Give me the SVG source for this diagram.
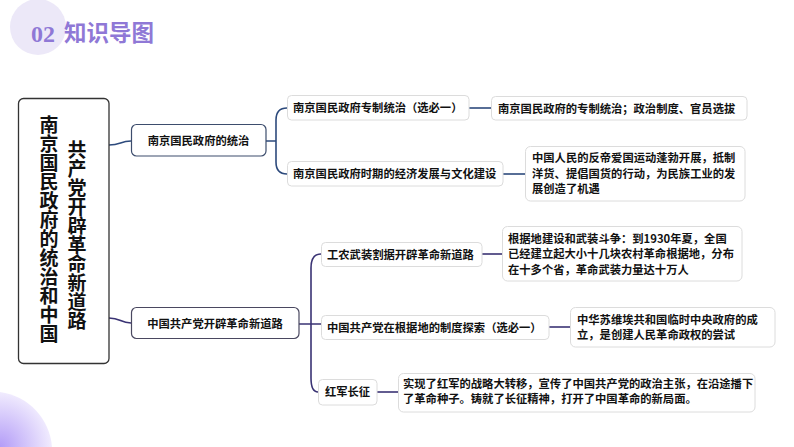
<svg xmlns="http://www.w3.org/2000/svg" width="794" height="447" viewBox="0 0 794 447">
<defs>
<radialGradient id="cg" cx="0" cy="1" r="1">
<stop offset="0" stop-color="#b39cf7"/>
<stop offset="1" stop-color="#f1ecfe"/>
</radialGradient>
<style>
.t{font-family:"Noto Sans CJK SC","Noto Sans",sans-serif;font-weight:bold;fill:#111;font-size:11.3px}
.sub{fill:#fff;stroke:#dcdcdc;stroke-width:1}
.ca{fill:none;stroke:#2d4a7c;stroke-width:1.6}
.cb{fill:none;stroke:#3a3374;stroke-width:1.6}
</style>
</defs>
<rect width="794" height="447" fill="#fff"/>
<g id="header">
<circle cx="38" cy="27" r="28" fill="#ece8f8"/>
<text x="31" y="42" font-family="Liberation Serif,serif" font-weight="bold" font-size="24" fill="#8f78d6">02</text>
<text x="64" y="41" font-family="Noto Sans CJK SC,sans-serif" font-weight="bold" font-size="22.5" fill="#8f78d6">知识导图</text>
</g>
<path d="M0,392 A60,60 0 0 1 52,447 L0,447 Z" fill="url(#cg)"/>
<g id="connectors">
<path class="ca" d="M109,145 C121,145 120,141 131,141"/>
<path class="ca" d="M266,141 H276 M287,108 C279,108 276,112 276,120 V162 C276,170 279,174 287,174"/>
<path class="ca" d="M469,108 H491"/>
<path class="ca" d="M503,174 H525"/>
<path class="cb" d="M109,318 C121,318 120,323 131,323"/>
<path class="cb" d="M299,324 H321 M321,254 C314,254 311,259 311,268 V378 C311,387 313,392 318,392"/>
<path class="cb" d="M482,254 H502"/>
<path class="cb" d="M549,327 H570"/>
<path class="cb" d="M377,392 H398"/>
</g>
<g id="root">
<rect x="18.5" y="98.5" width="90.5" height="265" rx="5" fill="#fff" stroke="#333" stroke-width="1.3"/>
<text x="49" y="115" style="writing-mode:vertical-rl;text-orientation:upright" font-family="Noto Sans CJK SC,sans-serif" font-weight="bold" font-size="19" fill="#111">南京国民政府的统治和中国</text>
<text x="77" y="140" style="writing-mode:vertical-rl;text-orientation:upright" font-family="Noto Sans CJK SC,sans-serif" font-weight="bold" font-size="19" fill="#111">共产党开辟革命新道路</text>
</g>
<g id="nodeA">
<rect x="131.5" y="124.5" width="134.5" height="31.5" rx="5" fill="#fff" stroke="#3d4d6d" stroke-width="1.2"/>
<text class="t" x="198.5" y="145" text-anchor="middle">南京国民政府的统治</text>
</g>
<g id="nodeA1">
<rect class="sub" x="287.5" y="95.5" width="181.5" height="24.5" rx="4"/>
<text class="t" x="293" y="112">南京国民政府专制统治（选必一）</text>
</g>
<g id="nodeA1d">
<rect class="sub" x="491.5" y="96.5" width="255.5" height="23.5" rx="4"/>
<text class="t" x="498" y="112.5">南京国民政府的专制统治；政治制度、官员选拔</text>
</g>
<g id="nodeA2">
<rect class="sub" x="287.5" y="161.5" width="215.5" height="24.5" rx="4"/>
<text class="t" x="293" y="178">南京国民政府时期的经济发展与文化建设</text>
</g>
<g id="nodeA2d">
<rect class="sub" x="525.5" y="146.5" width="219.5" height="54.5" rx="5"/>
<text class="t" x="532" y="162">中国人民的反帝爱国运动蓬勃开展，抵制</text>
<text class="t" x="532" y="178">洋货、提倡国货的行动，为民族工业的发</text>
<text class="t" x="532" y="193">展创造了机遇</text>
</g>
<g id="nodeB">
<rect x="131.5" y="307.5" width="167.5" height="31" rx="5" fill="#fff" stroke="#4a4860" stroke-width="1.2"/>
<text class="t" x="215" y="327.5" text-anchor="middle">中国共产党开辟革命新道路</text>
</g>
<g id="nodeB1">
<rect class="sub" x="321.5" y="242.5" width="160.5" height="24" rx="4"/>
<text class="t" x="327" y="258.5">工农武装割据开辟革命新道路</text>
</g>
<g id="nodeB1d">
<rect class="sub" x="502.5" y="226.5" width="239.5" height="54.5" rx="5"/>
<text class="t" x="508" y="243">根据地建设和武装斗争：到1930年夏，全国</text>
<text class="t" x="508" y="258">已经建立起大小十几块农村革命根据地，分布</text>
<text class="t" x="508" y="274">在十多个省，革命武装力量达十万人</text>
</g>
<g id="nodeB2">
<rect class="sub" x="321.5" y="315.5" width="227.5" height="24" rx="4"/>
<text class="t" x="327" y="331.5">中国共产党在根据地的制度探索（选必一）</text>
</g>
<g id="nodeB2d">
<rect class="sub" x="570.5" y="307.5" width="204.5" height="39.5" rx="5"/>
<text class="t" x="577" y="324">中华苏维埃共和国临时中央政府的成</text>
<text class="t" x="577" y="339">立，是创建人民革命政权的尝试</text>
</g>
<g id="nodeB3">
<rect class="sub" x="318.5" y="379.5" width="58.5" height="25.5" rx="4"/>
<text class="t" x="347.5" y="396" text-anchor="middle">红军长征</text>
</g>
<g id="nodeB3d">
<rect class="sub" x="398.5" y="373.5" width="356.5" height="38.5" rx="5"/>
<text class="t" x="403" y="388">实现了红军的战略大转移，宣传了中国共产党的政治主张，在沿途播下</text>
<text class="t" x="403" y="403">了革命种子。铸就了长征精神，打开了中国革命的新局面。</text>
</g>
</svg>
